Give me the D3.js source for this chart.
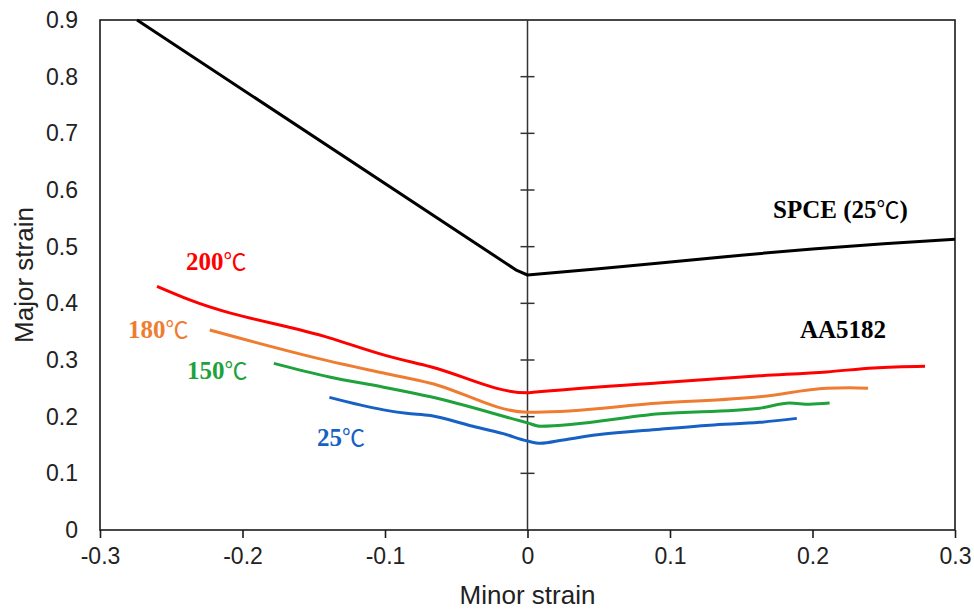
<!DOCTYPE html>
<html>
<head>
<meta charset="utf-8">
<script src="https://cdn.jsdelivr.net/npm/d3@7"></script>
<style>
  body { margin: 0; background: #fff; }
  svg { display: block; }
</style>
</head>
<body>
<div id="chart"></div>
<script>
// forming limit curves, minor vs major strain
const spce = [[-0.274, 0.9], [-0.0075, 0.458], [0, 0.45], [0.05, 0.461], [0.093, 0.471], [0.15, 0.485], [0.2, 0.496], [0.25, 0.505], [0.3, 0.513]];
const t200 = [[-0.26, 0.43], [-0.237, 0.406], [-0.139, 0.339], [-0.101, 0.309], [-0.068, 0.288], [0, 0.242],
  [0.004, 0.243], [0.093, 0.26], [0.163, 0.272], [0.21, 0.279], [0.243, 0.286], [0.279, 0.289]];
const t180 = [[-0.223, 0.353], [-0.139, 0.298], [-0.101, 0.277], [-0.068, 0.259], [0, 0.208], [0.006, 0.208],
  [0.093, 0.224], [0.163, 0.235], [0.21, 0.25], [0.226, 0.251], [0.239, 0.25]];
const t150 = [[-0.178, 0.294], [-0.139, 0.27], [-0.101, 0.252], [-0.068, 0.235], [0, 0.189], [0.009, 0.183],
  [0.093, 0.205], [0.163, 0.215], [0.184, 0.224], [0.198, 0.222], [0.212, 0.224]];
const t25 = [[-0.139, 0.234], [-0.101, 0.212], [-0.085, 0.206], [-0.068, 0.202], [-0.04, 0.184], [-0.017, 0.17],
  [0, 0.157], [0.009, 0.153], [0.025, 0.159], [0.049, 0.168], [0.093, 0.178], [0.128, 0.185], [0.163, 0.19], [0.189, 0.197]];

const xTicks = [-0.3, -0.2, -0.1, 0, 0.1, 0.2, 0.3];
const yTicks = [0, 0.1, 0.2, 0.3, 0.4, 0.5, 0.6, 0.7, 0.8, 0.9];

const series = [
  { name: 'SPCE (25', values: spce, color: '#000000', lx: 773, ly: 218, tail: ')', straight: true },
  { name: '200', values: t200, color: '#ff0000', lx: 186, ly: 270 },
  { name: '180', values: t180, color: '#ee7d31', lx: 128, ly: 338 },
  { name: '150', values: t150, color: '#1fa23c', lx: 187, ly: 379 },
  { name: '25', values: t25, color: '#1761c4', lx: 317, ly: 446 },
];

const width = 974, height = 609;
const margin = { left: 100, right: 19, top: 20, bottom: 79 };
const sans = 'Liberation Sans, Arial, sans-serif';
const serif = 'Liberation Serif, Times New Roman, serif';

const svg = d3.select('#chart').append('svg')
  .attr('width', width)
  .attr('height', height);

const x = d3.scaleLinear().domain([-0.3, 0.3]).range([margin.left, width - margin.right]);
const y = d3.scaleLinear().domain([0, 0.9]).range([height - margin.bottom, margin.top]);

// frame
svg.append('rect')
  .attr('x', x(-0.3)).attr('y', y(0.9))
  .attr('width', x(0.3) - x(-0.3)).attr('height', y(0) - y(0.9))
  .attr('fill', 'none').attr('stroke', '#1a1a1a').attr('stroke-width', 1.6);

// bottom axis
const xAxis = svg.append('g')
  .attr('transform', 'translate(0,' + y(0) + ')')
  .call(d3.axisBottom(x).tickValues(xTicks).tickSize(8).tickPadding(10).tickFormat(d => String(d)));
xAxis.select('.domain').remove();
xAxis.selectAll('line').attr('stroke', '#1a1a1a').attr('stroke-width', 1.6);
xAxis.selectAll('text').attr('font-family', sans).attr('font-size', 23).attr('fill', '#222');

// left axis labels
const yAxis = svg.append('g')
  .attr('transform', 'translate(' + x(-0.3) + ',0)')
  .call(d3.axisLeft(y).tickValues(yTicks).tickSize(0).tickPadding(22).tickFormat(d => String(d)));
yAxis.select('.domain').remove();
yAxis.selectAll('text').attr('font-family', sans).attr('font-size', 23).attr('fill', '#222');

// vertical axis at minor strain = 0 with crossing ticks
svg.append('line')
  .attr('x1', x(0)).attr('x2', x(0)).attr('y1', y(0.9)).attr('y2', y(0))
  .attr('stroke', '#333').attr('stroke-width', 1.5);
svg.append('g').selectAll('line')
  .data(yTicks.filter(d => d > 0 && d < 0.9))
  .enter().append('line')
  .attr('x1', x(0) - 7).attr('x2', x(0) + 7)
  .attr('y1', d => y(d)).attr('y2', d => y(d))
  .attr('stroke', '#333').attr('stroke-width', 1.5);

// curves (SPCE drawn with straight segments, measured ones smoothed)
const smooth = d3.line().x(d => x(d[0])).y(d => y(d[1])).curve(d3.curveMonotoneX);
const straight = d3.line().x(d => x(d[0])).y(d => y(d[1]));
svg.append('g').selectAll('path')
  .data(series)
  .enter().append('path')
  .attr('d', d => (d.straight ? straight(d.values) : smooth(d.values)))
  .attr('fill', 'none')
  .attr('stroke', d => d.color)
  .attr('stroke-width', 3)
  .attr('stroke-linejoin', 'round');

// curve labels
const labels = svg.append('g').selectAll('text')
  .data(series)
  .enter().append('text')
  .attr('x', d => d.lx).attr('y', d => d.ly)
  .attr('font-family', serif)
  .attr('font-weight', 'bold')
  .attr('font-size', 25)
  .attr('fill', d => d.color);
labels.append('tspan').text(d => d.name);
labels.append('tspan')
  .attr('font-family', 'Noto Sans CJK SC, DejaVu Sans, sans-serif')
  .attr('font-weight', 'normal')
  .attr('font-size', 23)
  .text('℃');
labels.filter(d => d.tail).append('tspan').text(d => d.tail);

svg.append('text')
  .attr('x', 800).attr('y', 338)
  .attr('font-family', serif)
  .attr('font-weight', 'bold')
  .attr('font-size', 25)
  .text('AA5182');

// axis titles
svg.append('text')
  .attr('x', x(0)).attr('y', 604)
  .attr('text-anchor', 'middle')
  .attr('font-family', sans)
  .attr('font-size', 26).attr('fill', '#222')
  .text('Minor strain');

svg.append('text')
  .attr('transform', 'translate(33,' + y(0.45) + ') rotate(-90)')
  .attr('text-anchor', 'middle')
  .attr('font-family', sans)
  .attr('font-size', 26).attr('fill', '#222')
  .text('Major strain');
</script>
</body>
</html>
